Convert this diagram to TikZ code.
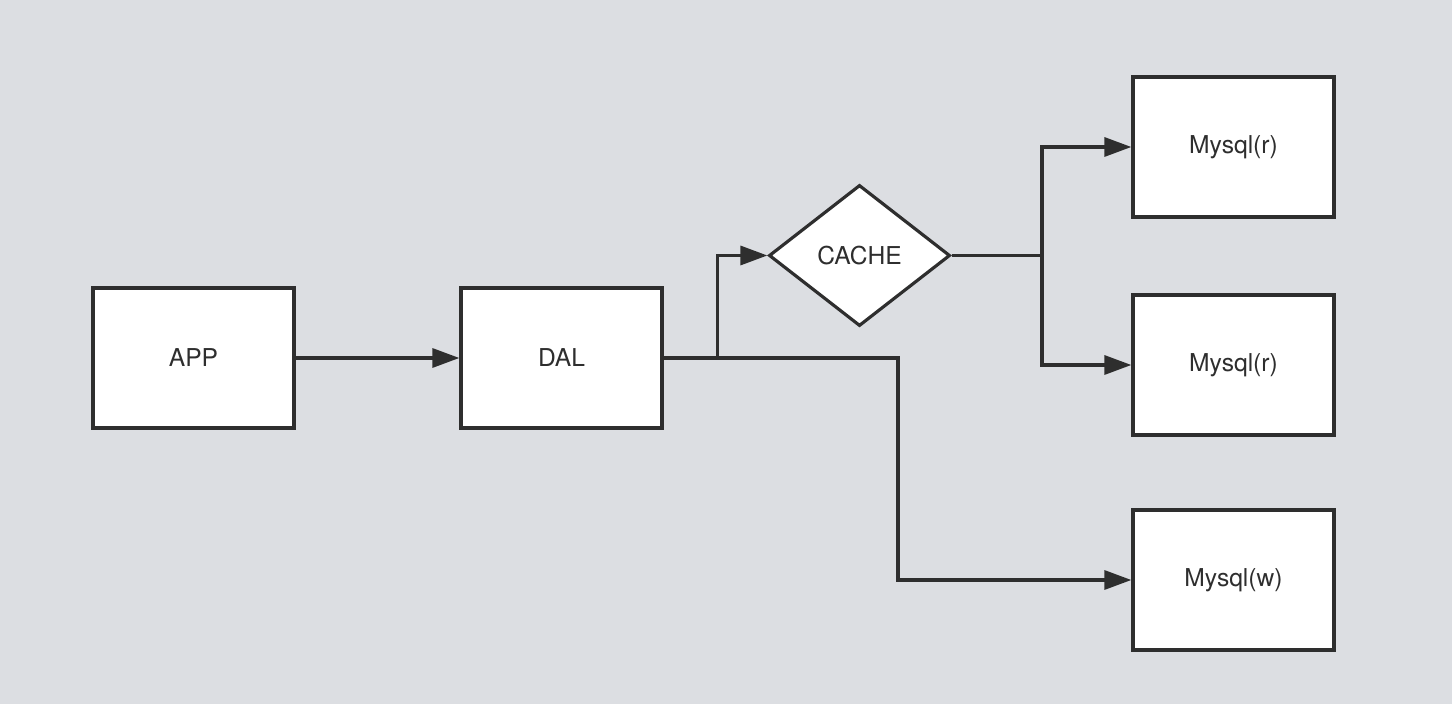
\documentclass[tikz,border=0pt]{standalone}
\usepackage{fontspec}
\setmainfont{TeX Gyre Heros}
\usetikzlibrary{shapes.geometric,arrows.meta}

\definecolor{bggray}{HTML}{DCDEE2}
\definecolor{inkgray}{HTML}{2E2E2E}

\begin{document}
\begin{tikzpicture}
[x=0.01cm,y=-0.01cm,%
  line width=0.95pt,draw=inkgray,%
  box/.style={shape=rectangle,draw=inkgray,fill=white,line width=0.9pt,text=inkgray,
    minimum width=2.01cm,minimum height=1.40cm,inner sep=0pt},%
  choice/.style={shape=diamond,draw=inkgray,fill=white,line width=0.9pt,text=inkgray,
    minimum width=1.81cm,minimum height=1.41cm,inner sep=0pt,aspect=1.28},%
  link/.style={draw=inkgray,line width=0.95pt,-{Triangle[length=0.27cm,width=0.19cm]}}]
\fontsize{7}{8}\selectfont
\fill[bggray] (0,0) rectangle (1452,704);
\useasboundingbox (0,0) rectangle (1452,704);
\node[box] (app) at (193.5,358) {APP};
\node[box] (dal) at (561.5,358) {DAL};
\node[choice] (cache) at (859.5,255.5) {CACHE};
\node[box] (readA) at (1233.5,147) {Mysql(r)};
\node[box] (readB) at (1233.5,365) {Mysql(r)};
\node[box] (write) at (1233.5,580) {Mysql(w)};
\coordinate (fork) at (1042,255.5);
\draw[link] (app) -- (dal);
\draw[link] (dal.east) -- ++(54,0) |- (cache.west);
\draw[link] (dal.east) -| (898,580) -- (write.west);
\draw (cache.east) -- (fork);
\draw[link] (fork) |- (readA.west);
\draw[link] (fork) |- (readB.west);
\end{tikzpicture}
\end{document}
